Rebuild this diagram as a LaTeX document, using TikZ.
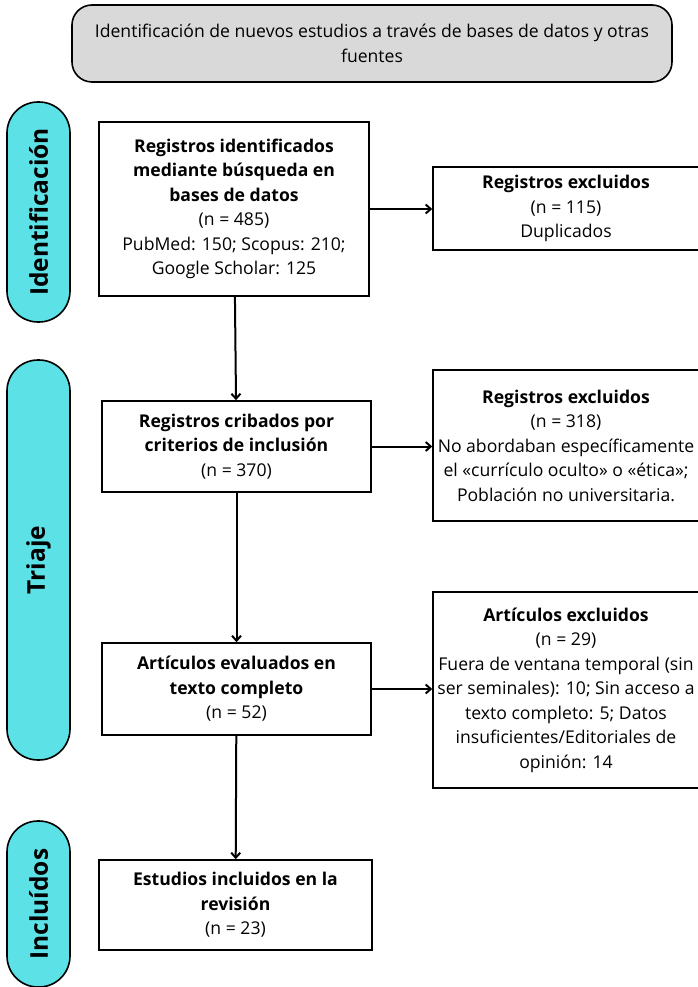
\documentclass[tikz,border=0pt]{standalone}
\usepackage{fontspec}
\setmainfont{Open Sans}
\usetikzlibrary{arrows.meta}

\definecolor{pillcyan}{HTML}{5CE1E6}
\definecolor{headgray}{HTML}{D9D9D9}

\begin{document}
\begin{tikzpicture}
  [x=1pt,y=-1pt,line width=1.6pt,
   every node/.style={font=\fontsize{17.6}{24.5}\selectfont,align=center,inner sep=0pt},
   box/.style={draw,fill=white},
   pill/.style={draw,fill=pillcyan,rounded corners=31pt,minimum width=63pt},
   pilltext/.style={rotate=90,font=\fontsize{24.5}{24.5}\selectfont\bfseries},
   flow/.style={line width=2pt,-{Straight Barb[length=5pt,width=9pt]}}]

  \useasboundingbox (0,0) rectangle (698,987);

  \node[draw,fill=headgray,rounded corners=20pt,minimum width=600pt,minimum height=77pt]
    (head) at (372,43.5) {Identificación de nuevos estudios a través de bases de datos y otras\\fuentes};

  \node[pill,minimum height=220pt] (pid) at (38.5,212) {};
  \node[pilltext] at (pid) {Identificación};
  \node[pill,minimum height=400pt] (ptr) at (38.5,560) {};
  \node[pilltext] at (ptr) {Triaje};
  \node[pill,minimum height=166pt] (pin) at (38.5,904) {};
  \node[pilltext] at (pin) {Incluídos};

  \node[box,minimum width=270pt,minimum height=174pt] (ident) at (234,209)
    {\textbf{Registros identificados}\\\textbf{mediante búsqueda en}\\\textbf{bases de datos}\\(n = 485)\\PubMed: 150; Scopus: 210;\\Google Scholar: 125};
  \node[box,minimum width=266pt,minimum height=83pt] (excl1) at (566,208.5)
    {\textbf{Registros excluidos}\\(n = 115)\\Duplicados};

  \node[box,minimum width=269pt,minimum height=91pt] (crib) at (236.5,446.5)
    {\textbf{Registros cribados por}\\\textbf{criterios de inclusión}\\(n = 370)};
  \node[box,minimum width=266pt,minimum height=151pt] (excl2) at (566,445.5)
    {\textbf{Registros excluidos}\\(n = 318)\\No abordaban específicamente\\el «currículo oculto» o «ética»;\\Población no universitaria.};

  \node[box,minimum width=269pt,minimum height=92pt] (eval) at (236.5,689)
    {\textbf{Artículos evaluados en}\\\textbf{texto completo}\\(n = 52)};
  \node[box,minimum width=266pt,minimum height=196pt] (excl3) at (566,690)
    {\textbf{Artículos excluidos}\\(n = 29)\\Fuera de ventana temporal (sin\\ser seminales): 10; Sin acceso a\\texto completo: 5; Datos\\insuficientes/Editoriales de\\opinión: 14};

  \node[box,minimum width=273pt,minimum height=90pt] (incl) at (235.5,905)
    {\textbf{Estudios incluidos en la}\\\textbf{revisión}\\(n = 23)};

  \foreach \from/\to in {ident/crib,crib/eval,eval/incl}
    \draw[flow] (\from) -- (\to);

  \foreach \from/\to in {ident/excl1,crib/excl2,eval/excl3}
    \draw[flow] (\from.east) -- (\from.east -| \to.west);
\end{tikzpicture}
\end{document}
